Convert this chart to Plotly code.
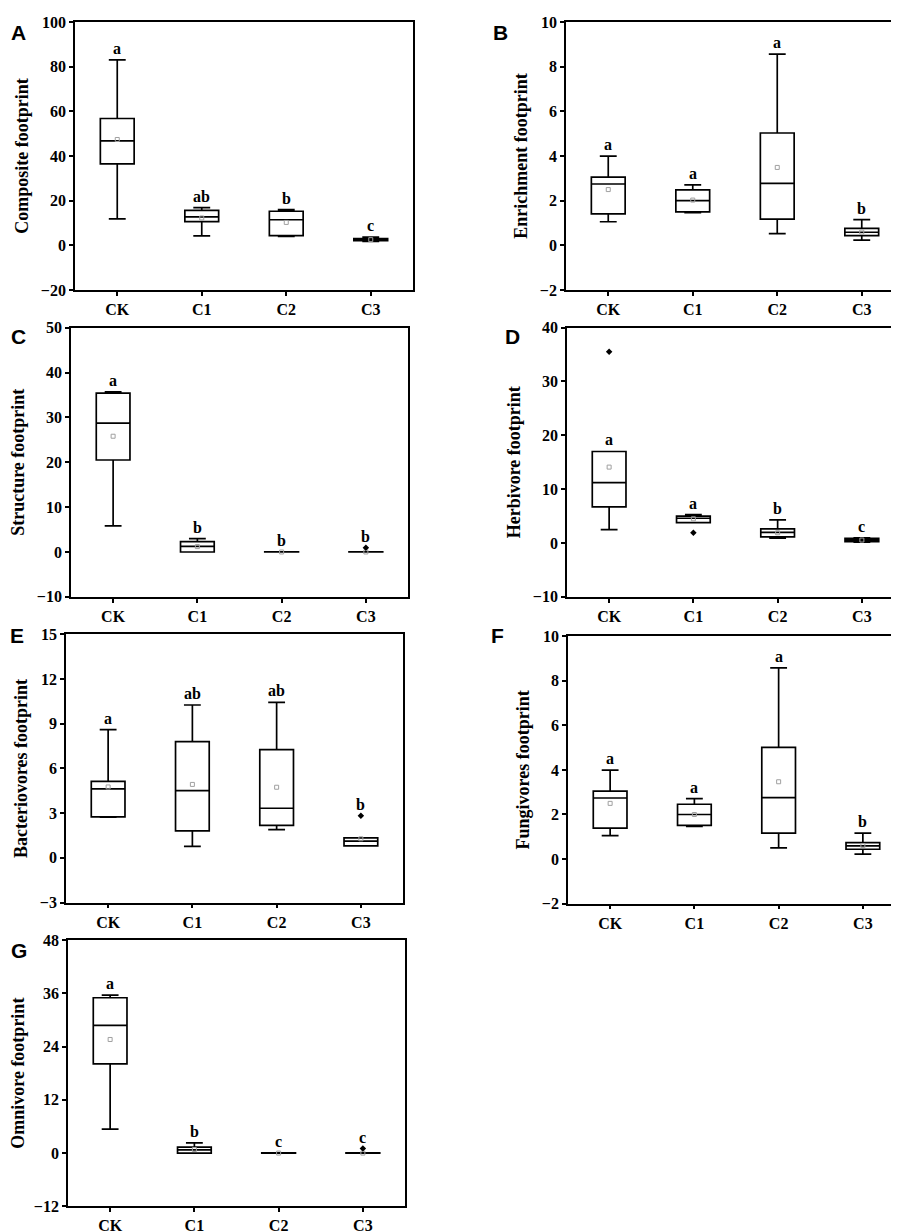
import plotly.graph_objects as go

grupos = ['CK', 'C1', 'C2', 'C3']
paneles = ['A', 'B', 'C', 'D', 'E', 'F', 'G']
titulos = ['Composite footprint', 'Enrichment footprint', 'Structure footprint',
           'Herbivore footprint', 'Bacteriovores footprint', 'Fungivores footprint',
           'Omnivore footprint']

# estadisticos, un renglon por panel (CK, C1, C2, C3)
bigote_inf = [[11.9, 4.3, 4.0, 1.8],
              [1.06, 1.47, 0.53, 0.24],
              [5.8, 0.0, 0.0, 0.0],
              [2.5, 3.8, 0.92, 0.18],
              [2.73, 0.77, 1.89, 0.81],
              [1.05, 1.47, 0.50, 0.22],
              [5.4, 0.0, 0.0, 0.0]]
q1 = [[36.5, 10.7, 4.4, 2.2],
      [1.41, 1.50, 1.18, 0.44],
      [20.5, 0.0, 0.0, 0.0],
      [6.7, 3.8, 1.16, 0.25],
      [2.75, 1.81, 2.18, 0.81],
      [1.39, 1.51, 1.16, 0.44],
      [20.1, 0.0, 0.0, 0.0]]
mediana = [[46.8, 12.8, 11.5, 2.6],
           [2.75, 2.01, 2.78, 0.59],
           [28.7, 1.25, 0.0, 0.0],
           [11.2, 4.6, 1.96, 0.55],
           [4.63, 4.52, 3.33, 1.12],
           [2.74, 2.00, 2.76, 0.59],
           [28.8, 0.74, 0.0, 0.0]]
q3 = [[56.8, 15.7, 15.3, 3.1],
      [3.06, 2.49, 5.03, 0.76],
      [35.4, 2.3, 0.05, 0.05],
      [17.0, 5.0, 2.63, 0.86],
      [5.13, 7.80, 7.27, 1.34],
      [3.05, 2.46, 5.01, 0.74],
      [35.0, 1.33, 0.05, 0.05]]
bigote_sup = [[83.0, 16.9, 16.0, 3.7],
              [4.0, 2.71, 8.56, 1.16],
              [35.7, 3.0, 0.05, 0.05],
              [17.0, 5.27, 4.29, 0.98],
              [8.61, 10.26, 10.44, 1.34],
              [3.99, 2.71, 8.58, 1.16],
              [35.6, 2.28, 0.05, 0.05]]
media = [[47.4, 12.3, 10.3, 2.6],
         [2.5, 2.03, 3.49, 0.6],
         [25.8, 1.2, 0.0, 0.0],
         [14.1, 4.5, 1.9, 0.55],
         [4.76, 4.93, 4.74, 1.28],
         [2.5, 2.0, 3.47, 0.6],
         [25.6, 0.8, 0.0, 0.0]]
letras = [['a', 'ab', 'b', 'c'],
          ['a', 'a', 'a', 'b'],
          ['a', 'b', 'b', 'b'],
          ['a', 'a', 'b', 'c'],
          ['a', 'ab', 'ab', 'b'],
          ['a', 'a', 'a', 'b'],
          ['a', 'b', 'c', 'c']]
# valores atipicos: (panel, grupo, valor)
atipicos = [(2, 'C3', 0.95), (3, 'CK', 35.5), (3, 'C1', 1.9),
            (4, 'C3', 2.82), (6, 'C3', 1.03)]

rangos_y = [[-20, 100], [-2, 10], [-10, 50], [-10, 40], [-3, 15], [-2, 10], [-12, 48]]
pasos_y = [20, 2, 10, 10, 3, 2, 12]

# posicion de cada panel en pixeles: izquierda, derecha, arriba, abajo
W, H = 899, 1232
cajas_px = [(67, 405, 6, 278), (558, 896, 6, 278),
            (63, 400, 316, 589), (559, 896, 316, 589),
            (58, 395, 627, 899), (560, 897, 629, 900),
            (60, 397, 937, 1207)]
letra_panel_px = [(1, 3), (483, 3), (1, 311), (495, 311), (0, 614), (481, 614), (1, 934)]

serif = 'Liberation Serif, Times New Roman, serif'

fig = go.Figure()
anotaciones = []

for i in range(len(paneles)):
    n = '' if i == 0 else str(i + 1)
    xa, ya = 'x' + n, 'y' + n

    fig.add_trace(go.Box(
        x=grupos, q1=q1[i], median=mediana[i], q3=q3[i],
        lowerfence=bigote_inf[i], upperfence=bigote_sup[i],
        width=0.4, whiskerwidth=0.5,
        line={'color': 'black', 'width': 1.7}, fillcolor='white',
        boxpoints=False, xaxis=xa, yaxis=ya, showlegend=False, hoverinfo='skip'
    ))
    fig.add_trace(go.Scatter(
        x=grupos, y=media[i], mode='markers', xaxis=xa, yaxis=ya, showlegend=False,
        marker={'symbol': 'square-open', 'size': 4, 'color': '#a0a0a0', 'line': {'width': 1}}
    ))
    out = [a for a in atipicos if a[0] == i]
    if out:
        fig.add_trace(go.Scatter(
            x=[a[1] for a in out], y=[a[2] for a in out], mode='markers',
            xaxis=xa, yaxis=ya, showlegend=False,
            marker={'symbol': 'diamond', 'size': 5, 'color': 'black'}
        ))

    for j, g in enumerate(grupos):
        tope = bigote_sup[i][j]
        for a in out:
            if a[1] == g and a[2] > tope and g != 'CK':
                tope = a[2]
        anotaciones.append(dict(
            x=g, y=tope, xref=xa, yref=ya, text=letras[i][j], showarrow=False,
            yanchor='bottom', yshift=1,
            font={'family': serif, 'size': 16, 'color': 'black', 'weight': 'bold'}
        ))

    l, r, t, b = cajas_px[i]
    eje_x = dict(
        domain=[l / W, r / W], anchor=ya, type='category', range=[-0.5, 3.5],
        showline=True, linecolor='black', linewidth=1.7, mirror=True,
        ticks='outside', ticklen=4, tickwidth=1.7, tickcolor='black',
        showgrid=False, zeroline=False,
        tickfont={'family': serif, 'size': 16, 'color': 'black', 'weight': 'bold'}
    )
    eje_y = dict(
        domain=[1 - b / H, 1 - t / H], anchor=xa, range=rangos_y[i], dtick=pasos_y[i],
        showline=True, linecolor='black', linewidth=1.7, mirror=True,
        ticks='outside', ticklen=4, tickwidth=1.7, tickcolor='black',
        showgrid=False, zeroline=False,
        tickfont={'family': serif, 'size': 16, 'color': 'black', 'weight': 'bold'},
        title={'text': titulos[i], 'standoff': 8,
               'font': {'family': serif, 'size': 18, 'color': 'black', 'weight': 'bold'}}
    )
    fig.update_layout({'xaxis' + n: eje_x, 'yaxis' + n: eje_y})

    px, py = letra_panel_px[i]
    anotaciones.append(dict(
        x=px / W, y=1 - py / H, xref='paper', yref='paper', text=paneles[i],
        showarrow=False, xanchor='left', yanchor='top',
        font={'family': 'Liberation Sans', 'size': 21, 'color': 'black', 'weight': 'bold'}
    ))

fig.update_layout(
    width=W, height=H,
    margin={'l': 0, 'r': 0, 't': 0, 'b': 0},
    paper_bgcolor='white', plot_bgcolor='white',
    annotations=anotaciones,
    showlegend=False
)

fig.write_html('out.html')
